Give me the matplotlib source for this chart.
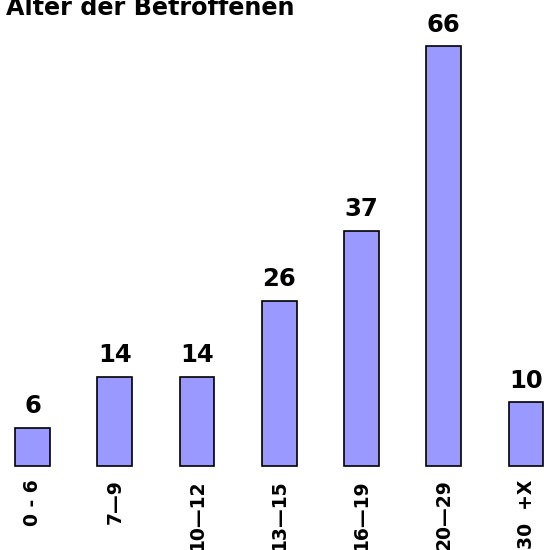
import matplotlib
matplotlib.use("Agg")
import matplotlib.pyplot as plt
import numpy as np

# ------------------ Data ------------------
age_groups = ["0 - 6", "7\u20149", "10\u201412", "13\u201415", "16\u201419", "20\u201429", "30  +X"]
counts = [6, 14, 14, 26, 37, 66, 10]
title = "Alter der Betroffenen"

# ------------------ Style ------------------
plt.rcParams.update({
    "font.family": "DejaVu Sans",
    "font.weight": "bold",
})

W, H = 544, 550
fig = plt.figure(figsize=(W / 100, H / 100), dpi=100)

# axes placed so the baseline sits ~84px above the bottom edge
ax = fig.add_axes([0, 84 / H, 1, 466 / H])

step = 82.25   # px between bar centres
x = np.arange(len(counts))
ax.bar(x, counts, width=0.4255, color="#9999FF", edgecolor="black",
       linewidth=1.2, zorder=2, clip_on=False)

for xi, v in zip(x, counts):
    ax.annotate(str(v), (xi, v), xytext=(0, 10.5), textcoords="offset points",
                ha="center", va="baseline", fontsize=17.5, fontweight="bold",
                annotation_clip=False)

ax.set_xlim(-32.5 / step, (W - 32.5) / step)
ax.set_ylim(0, 466 / 6.36)

ax.set_xticks(x)
ax.set_xticklabels(age_groups, rotation=90, fontsize=13.5, fontweight="bold")
ax.tick_params(axis="x", length=0, pad=9.5)
ax.set_yticks([])
for s in ax.spines.values():
    s.set_visible(False)
ax.patch.set_alpha(0)

fig.text(6 / W, 1 - 15 / H, title, ha="left", va="baseline",
         fontsize=17.2, fontweight="bold")

fig.savefig("out.png", dpi=100)
